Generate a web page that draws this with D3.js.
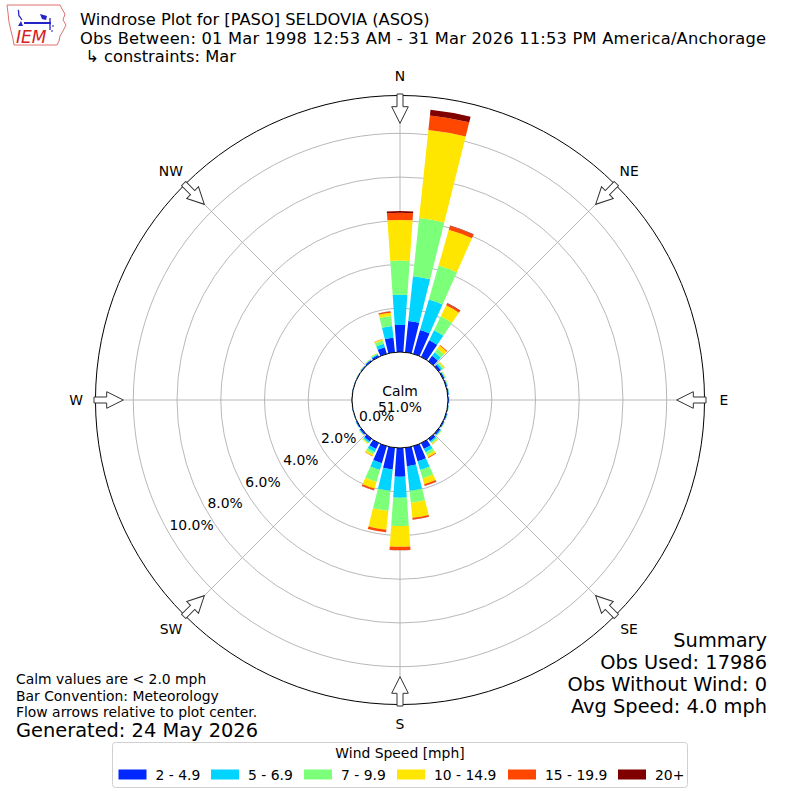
<!DOCTYPE html>
<html>
<head>
<meta charset="utf-8">
<script src="https://cdn.jsdelivr.net/npm/d3@7"></script>
<style>
  html, body { margin: 0; padding: 0; background: #fff; }
  text { font-family: "DejaVu Sans", sans-serif; fill: #000; }
</style>
</head>
<body>
<svg id="chart" width="800" height="800"></svg>
<script>
  // ------------------------------------------------------------
  // Data (percent of all obs, per 10 degree sector, per speed bin)
  // ------------------------------------------------------------
  const directions = [0, 10, 20, 30, 40, 50, 60, 70, 80, 90, 100, 110,
    120, 130, 140, 150, 160, 170, 180, 190, 200, 210, 220, 230,
    240, 250, 260, 270, 280, 290, 300, 310, 320, 330, 340, 350];

  const speedBins = ["2 - 4.9", "5 - 6.9", "7 - 9.9", "10 - 14.9", "15 - 19.9", "20+"];
  const binColors = ["#0028ff", "#00d4ff", "#7cff79", "#ffe600", "#ff4700", "#800000"];

  const spd2to5   = [1.24, 1.44, 1.13, 0.85, 0.30, 0.12, 0.07, 0.05, 0.05, 0.04, 0.04, 0.05,
                     0.06, 0.09, 0.14, 0.30, 0.72, 0.85, 1.31, 1.00, 0.81, 0.30, 0.15, 0.08,
                     0.05, 0.02, 0.02, 0.02, 0.02, 0.02, 0.03, 0.04, 0.06, 0.10, 0.32, 0.67];
  const spd5to7   = [1.38, 2.06, 1.46, 0.50, 0.20, 0.08, 0.03, 0.03, 0.02, 0.02, 0.01, 0.02,
                     0.02, 0.04, 0.07, 0.17, 0.41, 1.14, 0.96, 0.99, 0.32, 0.15, 0.07, 0.03,
                     0.02, 0.01, 0.01, 0.01, 0.01, 0.01, 0.01, 0.02, 0.03, 0.04, 0.16, 0.54];
  const spd7to10  = [1.56, 2.67, 1.61, 0.71, 0.20, 0.07, 0.03, 0.01, 0.01, 0.01, 0.01, 0.01,
                     0.01, 0.03, 0.06, 0.14, 0.41, 0.54, 1.30, 0.92, 0.57, 0.13, 0.05, 0.02,
                     0.01, 0.00, 0.00, 0.00, 0.00, 0.00, 0.01, 0.01, 0.02, 0.04, 0.16, 0.46];
  const spd10to15 = [1.86, 4.05, 1.70, 0.56, 0.18, 0.05, 0.02, 0.01, 0.00, 0.00, 0.00, 0.00,
                     0.01, 0.02, 0.04, 0.11, 0.27, 0.69, 0.95, 0.86, 0.32, 0.08, 0.03, 0.01,
                     0.00, 0.00, 0.00, 0.00, 0.00, 0.00, 0.00, 0.01, 0.01, 0.02, 0.05, 0.15];
  const spd15to20 = [0.33, 0.67, 0.18, 0.10, 0.04, 0.01, 0.00, 0.00, 0.00, 0.00, 0.00, 0.00,
                     0.00, 0.00, 0.01, 0.03, 0.08, 0.08, 0.15, 0.11, 0.08, 0.02, 0.00, 0.00,
                     0.00, 0.00, 0.00, 0.00, 0.00, 0.00, 0.00, 0.00, 0.00, 0.00, 0.02, 0.05];
  const spd20plus = [0.08, 0.26, 0.02, 0.02, 0.00, 0.00, 0.00, 0.00, 0.00, 0.00, 0.00, 0.00,
                     0.00, 0.00, 0.00, 0.00, 0.01, 0.01, 0.01, 0.01, 0.01, 0.00, 0.00, 0.00,
                     0.00, 0.00, 0.00, 0.00, 0.00, 0.00, 0.00, 0.00, 0.00, 0.00, 0.00, 0.01];

  const radialTicks = [0, 2, 4, 6, 8, 10];
  const compassLabels = ["N", "NE", "E", "SE", "S", "SW", "W", "NW"];

  const titleLines = [
    "Windrose Plot for [PASO] SELDOVIA (ASOS)",
    "Obs Between: 01 Mar 1998 12:53 AM - 31 Mar 2026 11:53 PM America/Anchorage",
    " \u21b3 constraints: Mar"
  ];
  const noteLines = ["Calm values are < 2.0 mph", "Bar Convention: Meteorology",
    "Flow arrows relative to plot center."];
  const summaryLines = ["Summary", "Obs Used: 17986", "Obs Without Wind: 0", "Avg Speed: 4.0 mph"];
  const calmPct = 51.0;

  // ------------------------------------------------------------
  // Layout
  // ------------------------------------------------------------
  const svg = d3.select("#chart");
  const cx = 400, cy = 400;
  const calmR = 48;
  const rScale = d3.scaleLinear().domain([0, 10]).range([calmR, 266.7]);
  const outerR = rScale(11.73);
  const toRad = d => d * Math.PI / 180;
  const fs = 13.9;  // 10pt at 100 dpi

  const series = [spd2to5, spd5to7, spd7to10, spd10to15, spd15to20, spd20plus];

  const plot = svg.append("g").attr("transform", `translate(${cx},${cy})`);

  // Grid circles
  plot.append("g").selectAll("circle")
    .data(radialTicks.slice(1))
    .join("circle")
    .attr("r", d => rScale(d))
    .attr("fill", "none").attr("stroke", "#b0b0b0").attr("stroke-width", 0.9);

  // Spokes every 45 degrees
  plot.append("g").selectAll("line")
    .data(compassLabels.map((_, i) => i * 45))
    .join("line")
    .attr("x1", d => calmR * Math.sin(toRad(d))).attr("y1", d => -calmR * Math.cos(toRad(d)))
    .attr("x2", d => outerR * Math.sin(toRad(d))).attr("y2", d => -outerR * Math.cos(toRad(d)))
    .attr("stroke", "#b0b0b0").attr("stroke-width", 0.9);

  // Stacked bars
  const arc = d3.arc();
  const barGroup = plot.append("g").attr("class", "bars");
  directions.forEach((dir, i) => {
    let base = 0;
    series.forEach((vals, k) => {
      const v = vals[i];
      if (v <= 0) return;
      barGroup.append("path")
        .attr("d", arc({
          innerRadius: rScale(base),
          outerRadius: rScale(base + v),
          startAngle: toRad(dir - 4),
          endAngle: toRad(dir + 4)
        }))
        .attr("fill", binColors[k]);
      base += v;
    });
  });

  // Outer frame
  plot.append("circle").attr("r", outerR)
    .attr("fill", "none").attr("stroke", "#000").attr("stroke-width", 1);

  // Calm circle
  plot.append("circle").attr("r", calmR)
    .attr("fill", "#fff").attr("stroke", "#000").attr("stroke-width", 1);
  plot.append("text").attr("x", 0).attr("y", -9)
    .attr("text-anchor", "middle").attr("dominant-baseline", "central")
    .attr("font-size", fs).text("Calm");
  plot.append("text").attr("x", 0).attr("y", 7)
    .attr("text-anchor", "middle").attr("dominant-baseline", "central")
    .attr("font-size", fs).text(calmPct.toFixed(1) + "%");

  // Radial tick labels, along the 240 degree bearing
  plot.append("g").selectAll("text")
    .data(radialTicks)
    .join("text")
    .attr("x", d => -rScale(d) * Math.cos(toRad(30)) + 0.5)
    .attr("y", d => rScale(d) * Math.sin(toRad(30)) - 8)
    .attr("dominant-baseline", "central")
    .attr("font-size", fs)
    .text(d => d.toFixed(1) + "%");

  // Flow arrows (hollow, pointing to center)
  const arrowPath = "M-3,-306 L3,-306 L3,-293.3 L8.3,-293.3 L0,-276.7 L-8.3,-293.3 L-3,-293.3 Z";
  plot.append("g").selectAll("path")
    .data(compassLabels.map((_, i) => i * 45))
    .join("path")
    .attr("d", arrowPath)
    .attr("transform", d => `rotate(${d})`)
    .attr("fill", "#fff").attr("stroke", "#333").attr("stroke-width", 1);

  // Compass labels
  plot.append("g").selectAll("text")
    .data(compassLabels)
    .join("text")
    .attr("x", (d, i) => 324 * Math.sin(toRad(i * 45)))
    .attr("y", (d, i) => -324 * Math.cos(toRad(i * 45)))
    .attr("text-anchor", "middle").attr("dominant-baseline", "central")
    .attr("font-size", fs)
    .text(d => d);

  // ------------------------------------------------------------
  // Titles & notes
  // ------------------------------------------------------------
  titleLines.forEach((t, i) => {
    svg.append("text").attr("x", 80).attr("y", 19.5 + i * 18.5)
      .attr("dominant-baseline", "central").attr("font-size", 16.3)
      .attr("textLength", i === 1 ? 686 : null)
      .attr("xml:space", "preserve").style("white-space", "pre")
      .text(t);
  });

  noteLines.forEach((t, i) => {
    svg.append("text").attr("x", 16).attr("y", 679 + i * 16.5)
      .attr("dominant-baseline", "central").attr("font-size", fs).text(t);
  });
  svg.append("text").attr("x", 16).attr("y", 730)
    .attr("dominant-baseline", "central").attr("font-size", 19.4)
    .text("Generated: 24 May 2026");

  summaryLines.forEach((t, i) => {
    svg.append("text").attr("x", 767).attr("y", 640 + i * 22)
      .attr("text-anchor", "end").attr("dominant-baseline", "central")
      .attr("font-size", 19.4).text(t);
  });

  // ------------------------------------------------------------
  // Legend
  // ------------------------------------------------------------
  const legend = svg.append("g");
  legend.append("rect")
    .attr("x", 112.5).attr("y", 742.5).attr("width", 575).attr("height", 45)
    .attr("rx", 3).attr("fill", "#fff").attr("stroke", "#d0d0d0").attr("stroke-width", 1);
  legend.append("text").attr("x", 400).attr("y", 752.5)
    .attr("text-anchor", "middle").attr("dominant-baseline", "central")
    .attr("font-size", fs).text("Wind Speed [mph]");
  const legendX = [118.5, 211, 304, 397, 508, 618];
  speedBins.forEach((label, i) => {
    legend.append("rect").attr("x", legendX[i]).attr("y", 769.5)
      .attr("width", 28).attr("height", 10).attr("fill", binColors[i]);
    legend.append("text").attr("x", legendX[i] + 37).attr("y", 774.5)
      .attr("dominant-baseline", "central").attr("font-size", fs).text(label);
  });

  // ------------------------------------------------------------
  // IEM logo (approximate)
  // ------------------------------------------------------------
  const logo = svg.append("g");
  logo.append("path")
    .attr("d", "M7,5 L60,5 L62,9 L65,14 L63,20 L66,25 L63,31 L60,36 L59,41 L57,45 L14,45 L13,39 L11,31 L9,22 L8,13 Z")
    .attr("fill", "#fff").attr("stroke", "#e07070").attr("stroke-width", 1);
  logo.append("path").attr("d", "M18,10 C20,12 17,15 20,17 L22,20")
    .attr("fill", "none").attr("stroke", "#2323c8").attr("stroke-width", 1.3);
  logo.append("path").attr("d", "M18,26 L21,21 L23,26 Z").attr("fill", "#2323c8");
  logo.append("line").attr("x1", 24).attr("y1", 23).attr("x2", 51).attr("y2", 23)
    .attr("stroke", "#2323c8").attr("stroke-width", 2);
  logo.append("path").attr("d", "M40,14 L47,16 L46,20 L42,19 Z").attr("fill", "#2323c8");
  logo.append("line").attr("x1", 50).attr("y1", 18).attr("x2", 50).attr("y2", 30)
    .attr("stroke", "#2323c8").attr("stroke-width", 1.3);
  logo.append("path").attr("d", "M52,26 L54,26 M51,31 L53,31")
    .attr("stroke", "#2323c8").attr("stroke-width", 1.2);
  logo.append("text").attr("x", 16).attr("y", 43)
    .attr("font-family", "Liberation Serif, serif").attr("font-style", "italic")
    .attr("font-size", 17).style("fill", "#d42020").text("IEM");
</script>
</body>
</html>
